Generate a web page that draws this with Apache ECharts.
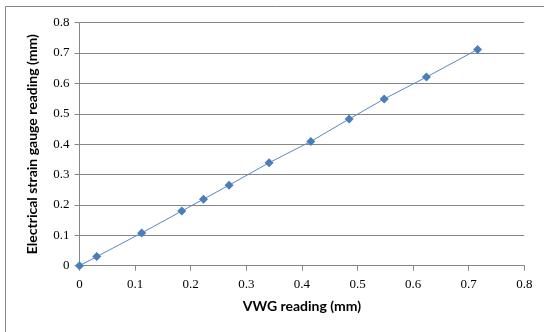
<!DOCTYPE html>
<html>
<head>
<meta charset="utf-8">
<script src="https://cdn.jsdelivr.net/npm/echarts@6/dist/echarts.min.js"></script>
<style>
  html, body { margin: 0; padding: 0; background: #ffffff; }
  #chart { width: 544px; height: 332px; }
</style>
</head>
<body>
<div id="chart"></div>
<script>
// readings
const vwgReading = [0, 0.031, 0.112, 0.184, 0.223, 0.269, 0.341, 0.416, 0.485, 0.548, 0.624, 0.716];
const gaugeReading = [0, 0.030, 0.108, 0.180, 0.219, 0.265, 0.339, 0.409, 0.483, 0.549, 0.621, 0.712];

const xTitle = 'VWG reading (mm)';
const yTitle = 'Electrical strain gauge reading (mm)';

const labelStyle = {
  fontFamily: 'Liberation Serif',
  fontSize: 13,
  color: '#000000'
};

const titleStyle = {
  fontFamily: 'Lato',
  fontWeight: 'bold',
  fontSize: 14,
  color: '#000000'
};

const chart = echarts.init(document.getElementById('chart'), null, { renderer: 'canvas' });

const option = {
  animation: false,
  backgroundColor: '#ffffff',
  graphic: [
    {
      type: 'rect',
      shape: { x: 5.5, y: 6.5, width: 600, height: 400 },
      style: { fill: 'none', stroke: '#868686', lineWidth: 1 },
      silent: true
    }
  ],
  grid: {
    left: 79.5,
    right: 19.7,
    top: 22.7,
    bottom: 66.3,
    containLabel: false
  },
  xAxis: {
    type: 'value',
    min: 0,
    max: 0.8,
    interval: 0.1,
    name: xTitle,
    nameLocation: 'center',
    nameGap: 34,
    nameTextStyle: titleStyle,
    axisLine: { show: true, lineStyle: { color: '#868686', width: 1 } },
    axisTick: { show: true, inside: false, length: 5, lineStyle: { color: '#868686' } },
    axisLabel: { ...labelStyle, margin: 12, formatter: v => String(+v.toFixed(1)) },
    splitLine: { show: false }
  },
  yAxis: {
    type: 'value',
    min: 0,
    max: 0.8,
    interval: 0.1,
    name: yTitle,
    nameLocation: 'center',
    nameGap: 40,
    nameTextStyle: titleStyle,
    axisLine: { show: true, lineStyle: { color: '#868686', width: 1 } },
    axisTick: { show: true, inside: false, length: 5, lineStyle: { color: '#868686' } },
    axisLabel: { ...labelStyle, margin: 10, formatter: v => String(+v.toFixed(1)) },
    splitLine: { show: true, lineStyle: { color: '#868686', width: 1 } }
  },
  series: [
    {
      type: 'line',
      data: vwgReading.map((x, i) => [x, gaugeReading[i]]),
      symbol: 'diamond',
      symbolSize: 9,
      lineStyle: { color: '#5b87c0', width: 1 },
      itemStyle: { color: '#4a7ebb' }
    }
  ]
};

chart.setOption(option);
</script>
</body>
</html>
